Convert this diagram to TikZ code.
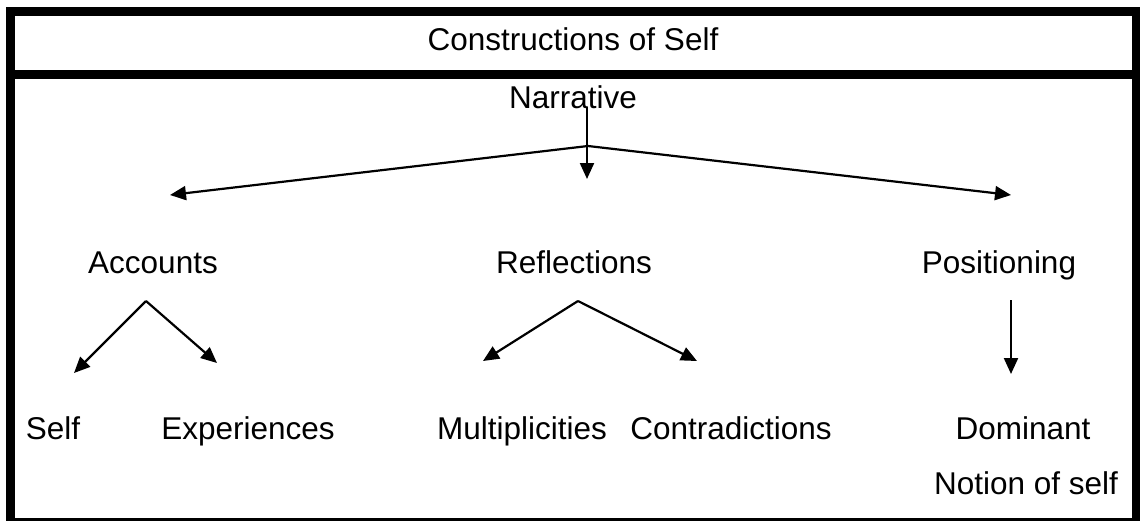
\documentclass[tikz,border=0pt]{standalone}
\usepackage{fontspec}
\setmainfont{Liberation Sans}
\usetikzlibrary{arrows.meta}
\begin{document}
\begin{tikzpicture}[x=1pt,y=-1pt,
  lbl/.style={anchor=base,inner sep=0pt,font=\fontsize{31.5}{36}\selectfont},
  conn/.style={line width=2.2pt,-{Triangle[length=16pt,width=14pt]}},
  plain/.style={line width=2.2pt},
  frame/.style={fill=black}]
\useasboundingbox (0,0) rectangle (1144,522);
% frame
\fill[frame] (6,7) rectangle (1140,16);
\fill[frame] (6,70) rectangle (1140,79);
\fill[frame] (6,7) rectangle (15,521);
\fill[frame] (1132,7) rectangle (1140,521);
\fill[frame] (6,517.5) rectangle (1140,521);
% texts
\node[lbl] (title) at (573,50) {Constructions of Self};
\node[lbl] (narr) at (573,108) {Narrative};
\node[lbl] (acc) at (153,273) {Accounts};
\node[lbl] (refl) at (574,273) {Reflections};
\node[lbl] (pos) at (999,273) {Positioning};
\node[lbl] (self) at (53,439) {Self};
\node[lbl] (exp) at (248,439) {Experiences};
\node[lbl] (mult) at (522,439) {Multiplicities};
\node[lbl] (contr) at (731,439) {Contradictions};
\node[lbl] (dom) at (1023,439) {Dominant};
\node[lbl] (notion) at (1026,494) {Notion of self};
% connector points
\coordinate (nTop) at (587,107);
\coordinate (nTip) at (587,179);
\coordinate (nApex) at (588,146);
\coordinate (accTip) at (170,195);
\coordinate (posTip) at (1011,195);
\coordinate (aApex) at (146,301);
\coordinate (selfTip) at (74,373);
\coordinate (expTip) at (217,363);
\coordinate (rApex) at (578,301);
\coordinate (multTip) at (483,361);
\coordinate (contrTip) at (697,361);
\coordinate (pTop) at (1011,300);
\coordinate (domTip) at (1011,374);
% connectors
\draw[conn] (nTop) -- (nTip);
\draw[conn] (nApex) -- (accTip);
\draw[conn] (nApex) -- (posTip);
\draw[conn] (aApex) -- (selfTip);
\draw[conn] (aApex) -- (expTip);
\draw[conn] (rApex) -- (multTip);
\draw[conn] (rApex) -- (contrTip);
\draw[conn] (pTop) -- (domTip);
\end{tikzpicture}
\end{document}
